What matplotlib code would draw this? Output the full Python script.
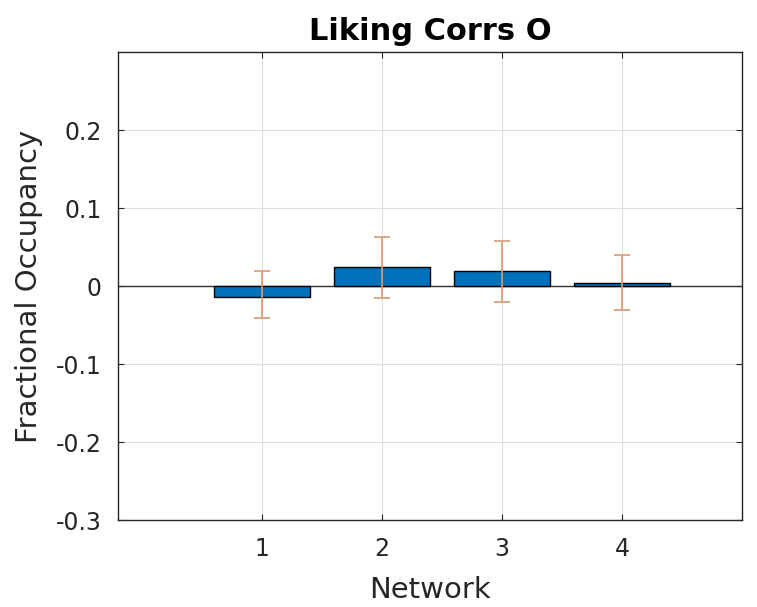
import matplotlib.pyplot as plt
import numpy as np

# ── Data ─────────────────────────────────────────────────────────────────────
networks  = [1, 2, 3, 4]
occupancy = [-0.014, 0.024, 0.019, 0.004]
err_low   = [-0.041, -0.015, -0.020, -0.030]
err_high  = [0.019, 0.063, 0.058, 0.040]

bar_color = "#0072BD"
err_color = "#D69A72"

fig = plt.figure(figsize=(7.57, 6.07), dpi=100)
ax = fig.add_axes([0.156, 0.143, 0.824, 0.771])

occ = np.array(occupancy)
yerr = [occ - np.array(err_low), np.array(err_high) - occ]

ax.bar(networks, occupancy, width=0.8, color=bar_color, edgecolor="black",
       linewidth=1.0, zorder=3)
ax.axhline(0, color="#333333", linewidth=1.0, zorder=2)
ax.errorbar(networks, occupancy, yerr=yerr, fmt="none", ecolor=err_color,
            elinewidth=1.2, capsize=6, capthick=1.2, zorder=4)

ax.set_xlim(-0.2, 5.0)
ax.set_ylim(-0.3, 0.3)
ax.set_xticks(networks)
ax.set_yticks([-0.3, -0.2, -0.1, 0, 0.1, 0.2])
ax.set_yticklabels(["-0.3", "-0.2", "-0.1", "0", "0.1", "0.2"])
ax.tick_params(direction="in", labelsize=17, colors="#262626", length=4,
               top=True, right=True)
ax.tick_params(axis="x", pad=12)
ax.tick_params(axis="y", pad=12)
ax.grid(True, color="#dddddd", linewidth=0.8, zorder=0)
for s in ax.spines.values():
    s.set_color("#262626")
    s.set_linewidth(1.0)

ax.set_xlabel("Network", fontsize=21, color="#262626", labelpad=11)
ax.set_ylabel("Fractional Occupancy", fontsize=21, color="#262626", labelpad=9)
ax.set_title("Liking Corrs O", fontsize=22, fontweight="bold", pad=9)

fig.savefig("out.png", dpi=100)
